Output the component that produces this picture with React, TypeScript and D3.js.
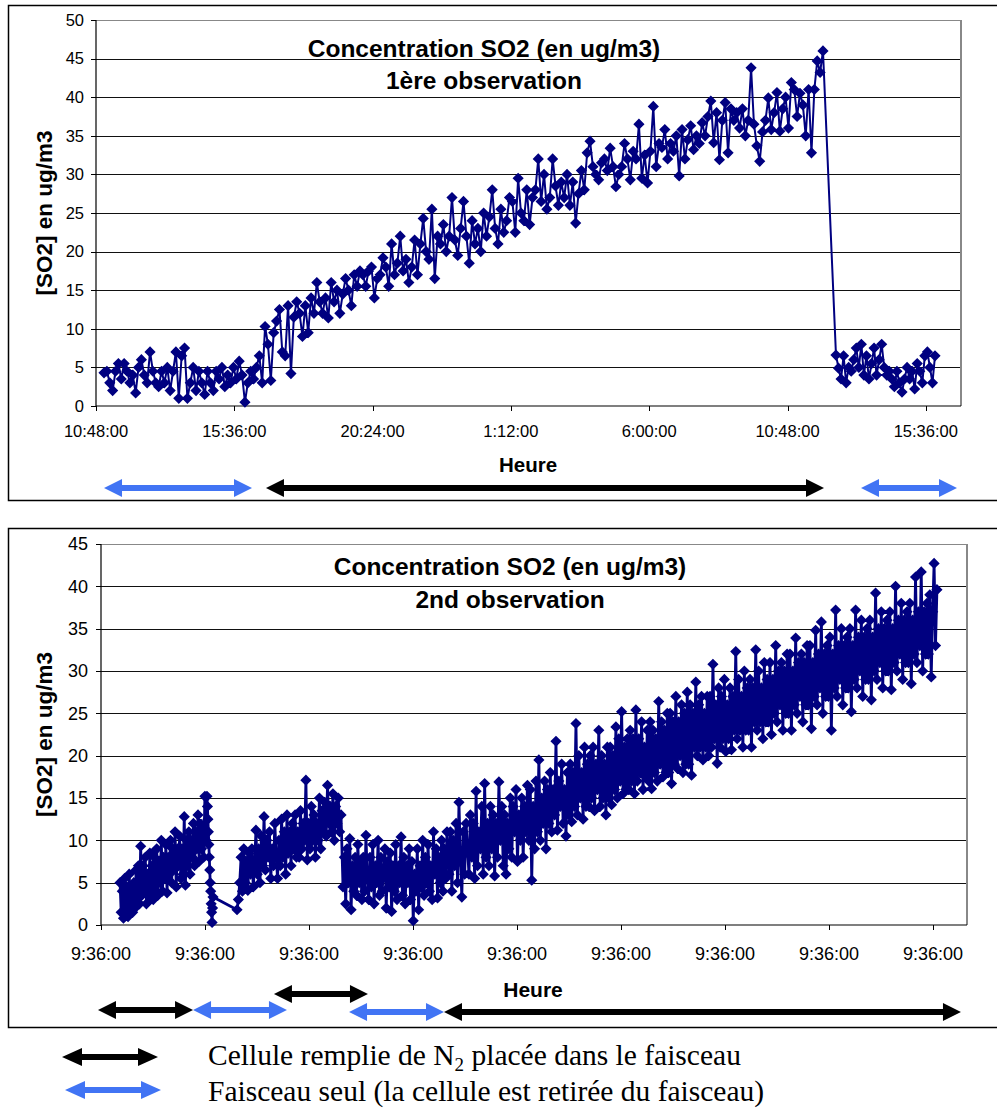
import React from 'react';
import * as d3 from 'd3';

// ---------------- Chart 1 (1ère observation) ----------------
// time in fractional days (0.45 = 10:48:00)
const C1_X_TICKS = [0.45, 0.65, 0.85, 1.05, 1.25, 1.45, 1.65];
const C1_Y_TICKS = [0, 5, 10, 15, 20, 25, 30, 35, 40, 45, 50];
const C1_TIME_SPANS = [[0.4616, 1.5013], [1.5201, 1.6633]];
const C1_SEG1 = [
  4.3,4.5,3,2,4.5,5.5,3.5,5.5,4.5,3,
  4,1.7,5,6,4,3,7,4.5,3,2.5,
  4.5,3,5,2,4.5,7,1,6.5,7.5,1,
  3,5,2,4.5,3,1.5,4.5,3,2,4.5,
  3.5,5,2.5,4,3,5,3.5,5.8,4,0.5,
  3,4.5,3.5,5,6.5,3,10.3,8,3.3,9.5,
  11,12.5,7,6.5,13,4.2,11.5,13.5,12,9,
  13,9.5,14,12,16,13.5,12,14,11.4,16,
  13.5,15,12,14.5,16.5,15,13,17,15.5,17.5,
  17,15.5,17.5,18,14,16.5,17,19.2,18,15.5,
  21,17,18.5,22,17.5,19,16,18,21.5,17,
  21,24.3,20,19,25.5,16.5,22,21,23.5,20,
  22,27,21.5,19.5,23,26.5,22,18.5,24,21,
  23,20,25,22,24.5,28,23,21,25.5,22.5,
  24,27,26.5,22.5,29.5,25,24,28,23.5,27,
  28,32,26.5,30,25.5,27,32,28.5,26,29,
  27,30,26,29,23.7,27.5,30.5,28,32.8,34.3,
  31,30,29.3,31.5,32,30.5,33.4,31,28.4,30,
  31,34,32,29.3,33,32,36.5,29.5,32.5,28.9,
  33,38.8,31,34,33.5,35.8,32,34,33,35,
  29.8,35.8,32,34.5,36.3,33.2,35,34,36.7,35,
  37.5,39.5,34.1,38,31.9,37,39.3,32.8,38.5,37,
  38,36,38.5,35,37,43.8,36.5,33.7,31.7,35.5,
  37,39.9,35.8,38,40.6,35.6,38.5,40,36,41.9,
  41,37.5,40.5,39,35,41,32.8,41,44.7,43.2,46,
];
const C1_SEG2 = [
  6.6,4.9,3.5,6.5,3,5,4.5,6,7.5,5,
  8,4,6.5,3.5,5.5,7.5,4,6,8,5,
  4,4.5,3.5,2.5,4.5,3,1.8,3.5,5,3.5,
  4.5,2.2,5.5,4.5,3,6.5,7,5,3,6.5,
];
// annotation arrows (in days): [start, end, kind]
const C1_ARROWS: [number, number, string][] = [
  [0.4616, 0.6756, 'blue'],
  [0.6958, 1.5028, 'black'],
  [1.5563, 1.6951, 'blue'],
];

// ---------------- Chart 2 (2nd observation) ----------------
const C2_X_TICKS = [0.4, 1.4, 2.4, 3.4, 4.4, 5.4, 6.4, 7.4, 8.4];
const C2_Y_TICKS = [0, 5, 10, 15, 20, 25, 30, 35, 40, 45];
const C2_TIME_SPANS = [[0.583, 1.41], [1.419, 1.477], [1.708, 2.708], [2.727, 3.727], [3.746, 8.438]];
const C2_S1 = [
  5,1.5,4,0.8,5.5,2,4.5,1,6,2.5,4,1.5,5,2,6.5,
  3,7,2.5,9.3,3.5,7,4,8,2.5,6,3.5,8.5,4,7,3,
  8,4,9,3.5,7.5,5,10,4,8,5.5,9.5,3.8,8,6,10,
  5,9,6.5,11,4.5,9,7,10.5,5.5,9,6,12.8,4.7,10,7,
  11,6,10,8,12,7,11,9,13,7.5,12,9,11,8,15.2,10,
];
const C2_TRANSITION = [15.2,14,12.5,11,9.5,8,6.5,5,4,2.5,1.5,0.3,2,3.3];
const C2_S2 = [
  1.8,3,5,8,4,9,5,7.5,4.1,8.5,6,9,4.5,7,11.2,
  6,9,5,10.5,7,12.8,6.5,10,8,11,5.5,9,7,12,8,
  5.5,10,7,12.5,8,11,6,13,8.5,11,7,12,9,13,8,
  11,8,13.5,9,12,10,17.1,7.7,12,9,14,10,13,8,12,
  10,15,9,13.5,11,14.5,10.5,16.5,12,14,11,15.5,10,14,12,15,11,13,
];
const C2_S3 = [
  4.5,8,2.5,9,5,10.2,1.8,7,4,8,3.5,9.5,5,7.5,3,
  8,4,10.6,5.5,3,8,4.5,9.5,2.5,7,5,10,3.5,8,4,
  6.5,9,2,7.5,4.5,8.5,1.6,7,4,9.5,3,7,5,10.4,3.5,
  8,2.5,7,5,9,3,7.5,0.5,6,4,9,1.8,7,4.5,10,
  3.5,8,5,9.5,4,7,3,11,6,9,3.2,8,5,10,4,9,5.5,11,
];
const C2_S4 = [
  6,11,4,10,7,12,5,14.5,8,3.3,11,6,12,9,
  6,13,8,12,5.5,15.8,7,11,9,14,6,16.7,8,12,
  7,14,9,13,5.8,12,8,16.9,10,14,7,13,6,12,
  9,15,8,14,11,16,7.5,13,10,15,8,14,11,16.5,
  10,16,5.3,14,9,17,11,19.5,10,15,12,17,9,16,
  12,18,11,16,13,21.7,11.2,17,14,19,12,16,10.5,18,
  13,19,12.2,18,14,23.8,13,20,15,18,12.5,21,14,19,
  14,20,15,21,13.5,19,16,23,14,20,15,19,13,21,
  15,21,14.2,20,16,23.4,15,22,17,25.2,15.5,21,16,22,
  16,23,17,22,15.5,25.4,17,22,18,24,16,21,17.5,23,
  17,24,16.1,23,18,22,17,26.4,19,24,17.5,23,18,25,
  18,25,16.7,24,19,27,18.5,24,20,26,18,25,19,27.5,
  19,26,17.7,25,21,28.7,20,26,21,27,19.5,25,21,27,
  20,27,21,30.8,22,26,19.1,28,21,27,22,29,20.5,26,
  22,28,20.7,27,23,32.3,22,29,23,27,21,30,23,28,
  23,29,21,28,24,32.5,23,30,24,28,22,31,24,29,
  24,31,22.5,29,25,33,24,30,26,31,23,30,25,32,
  25,32,23,30,26,33.9,25,31,27,32,24,31,26,33,
  26,33,23.2,31,27,34.8,26,32,28,35.8,25,32,27,33,
  27,34,23,32,28,37.2,27,33,29,35,26,33,28,34,
  28,35,25.2,33,29,37.2,28,34,30,36,27,34,29,35,
  29,36,26.6,34,30,39.2,29,35,31,37,28,35,30,36,
  30,37,27.8,35,31,40,30,36,32,38,29,36,31,37,
  31,38,28.5,36,32,41.1,31,37,33,41.7,30,37,32,38,
  32,39,29.3,37,42.7,33,39.6,
];
// [start, end, kind, vertical offset]
const C2_ARROWS: [number, number, string, number][] = [
  [0.371, 1.285, 'black', 0],
  [1.285, 2.188, 'blue', 0],
  [2.063, 2.967, 'black', -16],
  [2.785, 3.698, 'blue', 2],
  [3.698, 8.669, 'black', 2],
];

const NAVY = '#000080';
const BLUE = '#4174f4';
const SANS = "'Liberation Sans', Arial, sans-serif";
const SERIF = "'Liberation Serif', 'Times New Roman', serif";

type Pt = { t: number; v: number };
function buildSeries(spans: number[][], segs: number[][]): Pt[] {
  const pts: Pt[] = [];
  segs.forEach((vals, k) => {
    const [t0, t1] = spans[k];
    const n = vals.length;
    vals.forEach((v, i) => pts.push({ t: t0 + ((t1 - t0) * i) / Math.max(1, n - 1), v }));
  });
  return pts;
}

function fmtTime(d: number) {
  const s = Math.round(d * 86400) % 86400;
  const h = Math.floor(s / 3600);
  const m = Math.floor((s % 3600) / 60);
  const sec = s % 60;
  const p = (x: number) => String(x).padStart(2, '0');
  return `${h}:${p(m)}:${p(sec)}`;
}

function arrowPath(x1: number, x2: number, y: number, st = 3, hl = 18, hh = 9) {
  return `M${x1},${y} L${x1 + hl},${y - hh} L${x1 + hl},${y - st} L${x2 - hl},${y - st} L${x2 - hl},${y - hh} L${x2},${y} L${x2 - hl},${y + hh} L${x2 - hl},${y + st} L${x1 + hl},${y + st} L${x1 + hl},${y + hh} Z`;
}

type PanelProps = {
  frameY: number; frameH: number;
  left: number; right: number; top: number; bottom: number;
  xDomain: [number, number]; yMax: number;
  xTicks: number[]; yTicks: number[];
  data: Pt[]; markerR: number; lineW: number;
  title: string[]; titleX: number; titleY: number[];
  tickFont: number; yLabelX: number; xLabelY: number;
  heureX: number; heureY: number; heureFont: number;
  arrows: [number, number, string, number][]; arrowY: number;
};

function Panel(p: PanelProps) {
  const x = d3.scaleLinear().domain(p.xDomain).range([p.left, p.right]);
  const y = d3.scaleLinear().domain([0, p.yMax]).range([p.bottom, p.top]);
  const line = d3.line<Pt>().x((d) => x(d.t)).y((d) => y(d.v));
  const r = p.markerR;
  const markers = p.data
    .map((d) => {
      const cx = x(d.t), cy = y(d.v);
      return `M${cx},${cy - r}L${cx + r},${cy}L${cx},${cy + r}L${cx - r},${cy}Z`;
    })
    .join('');
  const midY = (p.top + p.bottom) / 2;
  return (
    <g>
      <rect x={8.5} y={p.frameY + 0.5} width={1000} height={p.frameH} fill="#fff" stroke="#000" strokeWidth={1.5} />
      {p.yTicks.filter((t) => t > 0).map((t) => (
        <line key={t} x1={p.left} x2={p.right} y1={Math.round(y(t)) + 0.5} y2={Math.round(y(t)) + 0.5}
          stroke={t === p.yMax ? '#888' : '#111'} strokeWidth={1} />
      ))}
      <line x1={p.right} x2={p.right} y1={p.top} y2={p.bottom} stroke="#888" strokeWidth={2} />
      <line x1={p.left} x2={p.left} y1={p.top} y2={p.bottom} stroke="#000" strokeWidth={1.2} />
      <line x1={p.left} x2={p.right} y1={p.bottom} y2={p.bottom} stroke="#000" strokeWidth={1.2} />
      {p.yTicks.map((t) => (
        <g key={'y' + t}>
          <line x1={p.left - 5} x2={p.left} y1={Math.round(y(t)) + 0.5} y2={Math.round(y(t)) + 0.5} stroke="#000" />
          <text x={p.yLabelX} y={y(t)} dy="0.35em" textAnchor="end" fontFamily={SANS} fontSize={p.tickFont} fill="#000">{t}</text>
        </g>
      ))}
      {p.xTicks.map((t, i) => (
        <g key={'x' + i}>
          <line x1={Math.round(x(t)) + 0.5} x2={Math.round(x(t)) + 0.5} y1={p.bottom} y2={p.bottom + 5} stroke="#000" />
          <text x={x(t)} y={p.xLabelY} textAnchor="middle" fontFamily={SANS} fontSize={p.tickFont} fill="#000">{fmtTime(t)}</text>
        </g>
      ))}
      <path d={line(p.data) || ''} fill="none" stroke={NAVY} strokeWidth={p.lineW} strokeLinejoin="round" />
      <path d={markers} fill={NAVY} stroke="none" />
      {p.title.map((s, i) => (
        <text key={i} x={p.titleX} y={p.titleY[i]} textAnchor="middle" fontFamily={SANS} fontWeight={700} fontSize={24.5} fill="#000">{s}</text>
      ))}
      <text transform={`translate(44,${midY}) rotate(-90)`} textAnchor="middle" dy="0.35em" fontFamily={SANS} fontWeight={700} fontSize={22.5} fill="#000">[SO2] en ug/m3</text>
      <text x={p.heureX} y={p.heureY} textAnchor="middle" fontFamily={SANS} fontWeight={700} fontSize={p.heureFont} fill="#000">Heure</text>
      {p.arrows.map(([a, b, kind, dy], i) => (
        <path key={'a' + i} d={arrowPath(x(a), x(b), p.arrowY + dy)} fill={kind === 'blue' ? BLUE : '#000'} />
      ))}
    </g>
  );
}

export default function App() {
  const d1 = buildSeries(C1_TIME_SPANS, [C1_SEG1, C1_SEG2]);
  const d2 = buildSeries(C2_TIME_SPANS, [C2_S1, C2_TRANSITION, C2_S2, C2_S3, C2_S4]);
  return (
    <svg width={997} height={1115} style={{ position: 'absolute', left: 0, top: 0, display: 'block', background: '#fff' }}>
      <Panel
        frameY={5} frameH={495}
        left={96} right={961} top={20} bottom={406}
        xDomain={[0.45, 1.7009]} yMax={50}
        xTicks={C1_X_TICKS} yTicks={C1_Y_TICKS}
        data={d1} markerR={5.6} lineW={2}
        title={['Concentration SO2 (en ug/m3)', '1ère observation']} titleX={484} titleY={[57, 89]}
        tickFont={16.5} yLabelX={84} xLabelY={437}
        heureX={528} heureY={472} heureFont={20.5}
        arrows={C1_ARROWS.map(([a, b, k]) => [a, b, k, 0] as [number, number, string, number])} arrowY={488}
      />
      <Panel
        frameY={528} frameH={499}
        left={101} right={967} top={544} bottom={925}
        xDomain={[0.4, 8.727]} yMax={45}
        xTicks={C2_X_TICKS} yTicks={C2_Y_TICKS}
        data={d2} markerR={5.6} lineW={2.8}
        title={['Concentration SO2 (en ug/m3)', '2nd observation']} titleX={510} titleY={[575, 608]}
        tickFont={18} yLabelX={88} xLabelY={960}
        heureX={533} heureY={997} heureFont={21}
        arrows={C2_ARROWS} arrowY={1010}
      />
      <path d={arrowPath(62, 158, 1057, 3, 20, 9)} fill="#000" />
      <path d={arrowPath(65, 161, 1090, 3, 20, 9)} fill={BLUE} />
      <text x={208} y={1065} fontFamily={SERIF} fontSize={29.5} fill="#000">
        Cellule remplie de N<tspan fontSize={19} dy={6}>2</tspan><tspan dy={-6}> placée dans le faisceau</tspan>
      </text>
      <text x={208} y={1101} fontFamily={SERIF} fontSize={29.5} fill="#000">Faisceau seul (la cellule est retirée du faisceau)</text>
    </svg>
  );
}
